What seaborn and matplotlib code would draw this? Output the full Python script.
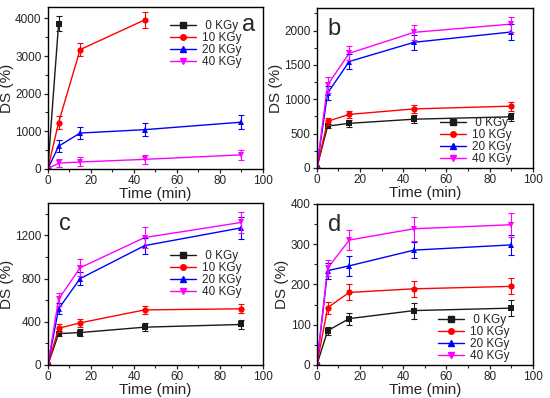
import matplotlib
matplotlib.use("Agg")
import matplotlib.pyplot as plt
import numpy as np
import pandas as pd
import seaborn as sns

time = [0, 5, 15, 45, 90]
doses = ["0 KGy", "10 KGy", "20 KGy", "40 KGy"]

# panel a (0 and 10 KGy stop early)
a_0 = [0, 3860]
a_0_err = [0, 200]
a_10 = [0, 1230, 3170, 3960]
a_10_err = [0, 170, 180, 210]
a_20 = [0, 600, 950, 1040, 1240]
a_20_err = [0, 160, 150, 180, 190]
a_40 = [0, 150, 180, 250, 370]
a_40_err = [0, 110, 120, 120, 130]

# panel b
b_0 = [0, 610, 650, 710, 745]
b_0_err = [0, 30, 50, 60, 60]
b_10 = [0, 680, 780, 860, 900]
b_10_err = [0, 50, 55, 60, 65]
b_20 = [0, 1090, 1550, 1830, 1980]
b_20_err = [0, 100, 110, 110, 110]
b_40 = [0, 1210, 1670, 1975, 2095]
b_40_err = [0, 120, 100, 110, 110]

# panel c
c_0 = [0, 290, 300, 350, 375]
c_0_err = [0, 25, 35, 40, 45]
c_10 = [0, 340, 390, 510, 520]
c_10_err = [0, 35, 40, 40, 40]
c_20 = [0, 520, 800, 1105, 1270]
c_20_err = [0, 50, 60, 75, 100]
c_40 = [0, 610, 900, 1180, 1320]
c_40_err = [0, 60, 80, 100, 100]

# panel d
d_0 = [0, 85, 115, 135, 141]
d_0_err = [0, 10, 15, 20, 20]
d_10 = [0, 142, 180, 189, 195]
d_10_err = [0, 15, 20, 20, 20]
d_20 = [0, 234, 246, 285, 298]
d_20_err = [0, 20, 25, 20, 25]
d_40 = [0, 240, 310, 338, 348]
d_40_err = [0, 20, 25, 30, 30]

colors = {"0 KGy": "#1a1a1a", "10 KGy": "#ff0000", "20 KGy": "#0000ff", "40 KGy": "#ff00ff"}
markers = {"0 KGy": "s", "10 KGy": "o", "20 KGy": "^", "40 KGy": "v"}


def make_df(series):
    rows = []
    for dose, (vals, errs) in zip(doses, series):
        for t, v, e in zip(time, vals, errs):
            rows.append({"time": t, "ds": v, "err": e, "dose": dose})
    return pd.DataFrame(rows)


panels = [
    ("a", make_df([(a_0, a_0_err), (a_10, a_10_err), (a_20, a_20_err), (a_40, a_40_err)]),
     [0, 1000, 2000, 3000, 4000], (0, 4300)),
    ("b", make_df([(b_0, b_0_err), (b_10, b_10_err), (b_20, b_20_err), (b_40, b_40_err)]),
     [0, 500, 1000, 1500, 2000], (0, 2330)),
    ("c", make_df([(c_0, c_0_err), (c_10, c_10_err), (c_20, c_20_err), (c_40, c_40_err)]),
     [0, 400, 800, 1200], (0, 1500)),
    ("d", make_df([(d_0, d_0_err), (d_10, d_10_err), (d_20, d_20_err), (d_40, d_40_err)]),
     [0, 100, 200, 300, 400], (0, 400)),
]

sns.set_theme(style="ticks")
plt.rcParams["font.family"] = ["Liberation Sans", "DejaVu Sans"]

fig = plt.figure(figsize=(5.5, 3.98), dpi=100)
rects = [
    [0.087, 0.576, 0.391, 0.406],
    [0.576, 0.578, 0.393, 0.402],
    [0.087, 0.083, 0.391, 0.407],
    [0.576, 0.083, 0.393, 0.405],
]
label_pos = {"a": (0.905, 0.89), "b": (0.05, 0.87), "c": (0.05, 0.87), "d": (0.05, 0.87)}
legend_loc = {
    "a": dict(loc="upper left", bbox_to_anchor=(0.57, 0.92)),
    "b": dict(loc="lower right", bbox_to_anchor=(0.9, 0.02)),
    "c": dict(loc="center left", bbox_to_anchor=(0.57, 0.56)),
    "d": dict(loc="lower right", bbox_to_anchor=(0.89, 0.02)),
}

for (name, df, yticks, ylim), rect in zip(panels, rects):
    ax = fig.add_axes(rect)
    sns.lineplot(
        data=df, x="time", y="ds", hue="dose", style="dose",
        palette=colors, markers=markers, dashes=False,
        markersize=4.5, markeredgewidth=0, linewidth=1.0, ax=ax, legend=False,
    )
    for dose in doses:
        sub = df[df["dose"] == dose]
        ax.errorbar(sub["time"], sub["ds"], yerr=sub["err"], fmt="none",
                    ecolor=colors[dose], elinewidth=0.8, capsize=2, capthick=0.8)

    ax.set_xlim(0, 100)
    ax.set_ylim(*ylim)
    ax.set_xticks([0, 20, 40, 60, 80, 100])
    ax.set_xticks([10, 30, 50, 70, 90], minor=True)
    ax.set_yticks(yticks)
    step = yticks[1] - yticks[0]
    ax.set_yticks(np.arange(step / 2, ylim[1], step), minor=True)
    ax.tick_params(axis="both", which="major", labelsize=8.5, length=3, width=0.9, pad=1.5)
    ax.tick_params(axis="both", which="minor", length=2, width=0.8)
    for s in ax.spines.values():
        s.set_linewidth(1.0)
        s.set_color("black")
    ax.set_xlabel("Time (min)", fontsize=11, labelpad=0)
    ax.set_ylabel("DS (%)", fontsize=11, labelpad=1)
    ax.text(*label_pos[name], name, transform=ax.transAxes, fontsize=17, ha="left", va="center")

    handles = [
        plt.Line2D([], [], color=colors[d], marker=markers[d], markersize=4, linewidth=1.0)
        for d in doses
    ]
    labels = [" 0 KGy", "10 KGy", "20 KGy", "40 KGy"]
    ax.legend(handles, labels, frameon=False, fontsize=8.5, handlelength=2.2,
              labelspacing=0.0, borderaxespad=0.0, borderpad=0.0, handletextpad=0.5,
              **legend_loc[name])

fig.savefig("out.png", dpi=100)
